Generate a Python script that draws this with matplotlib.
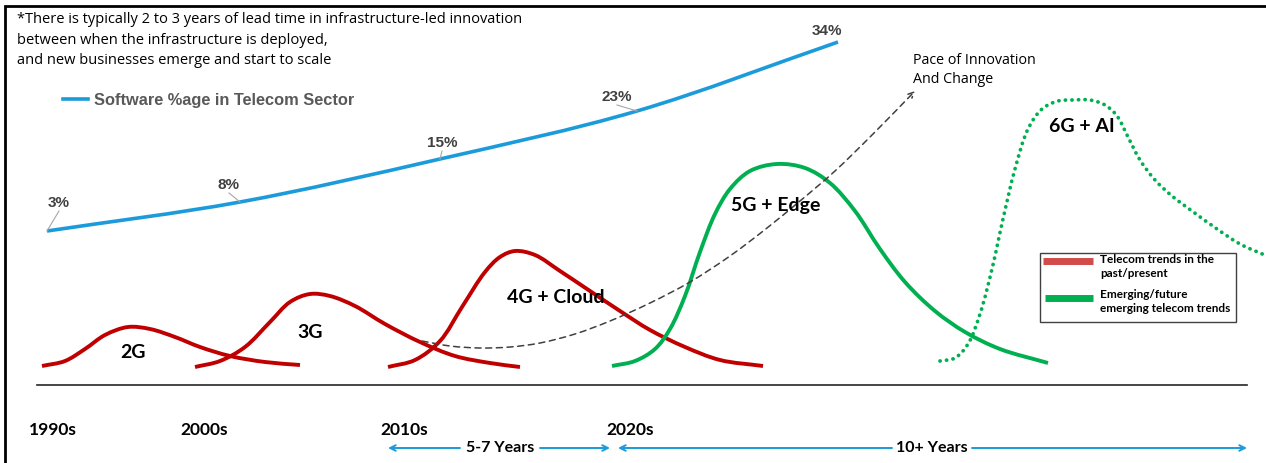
import numpy as np
import matplotlib
matplotlib.use('Agg')
import matplotlib.pyplot as plt
from matplotlib.path import Path
from matplotlib.patches import PathPatch, FancyArrowPatch, Rectangle

# ── colours ──
Blue   = '#1C9BDB'
Red    = '#C00000'
Green  = '#00B050'
Grey   = '#595959'
Dark   = '#262626'

# ── data (reference pixel coordinates, y grows downward) ──
sw_x      = [47, 240, 440, 637, 838]
sw_y      = [232, 203, 160, 112, 43]
sw_labels = ['3%', '8%', '15%', '23%', '34%']
sw_lab_x  = [59, 229, 442, 617, 827]
sw_lab_y  = [203, 185, 143, 97, 31]

g2_x = [42, 65, 85, 105, 128, 150, 175, 200, 230, 265, 300]
g2_y = [367, 362, 350, 336, 328, 330, 338, 348, 357, 363, 366]
g3_x = [195, 220, 245, 270, 290, 310, 330, 355, 385, 420, 455, 490, 520]
g3_y = [368, 362, 348, 323, 303, 295, 297, 307, 325, 343, 357, 364, 368]
g4_x = [388, 415, 440, 462, 485, 500, 515, 535, 560, 590, 620, 650, 685, 720, 763]
g4_y = [368, 361, 342, 308, 273, 258, 252, 256, 272, 292, 312, 331, 348, 361, 367]
g5_x = [612, 635, 655, 670, 685, 700, 715, 730, 750, 777, 805, 830, 855, 880, 905,
        935, 965, 1000, 1048]
g5_y = [367, 362, 350, 330, 297, 253, 215, 190, 172, 165, 169, 184, 212, 250, 283,
        312, 333, 350, 364]
g6_x = [940, 955, 968, 980, 992, 1003, 1015, 1028, 1042, 1058, 1073, 1090, 1105, 1117,
        1128, 1140, 1155, 1172, 1192, 1217, 1240, 1267]
g6_y = [362, 359, 345, 315, 270, 220, 170, 130, 110, 102, 101, 101, 106, 117,
        138, 161, 181, 197, 212, 230, 245, 257]
pace_x = [422, 450, 480, 510, 540, 575, 610, 650, 690, 730, 767, 800, 835, 875, 915]
pace_y = [342, 347, 349, 348, 344, 335, 322, 304, 283, 257, 229, 202, 172, 133, 92]

gen_labels = ['2G', '3G', '4G + Cloud', '5G + Edge', '6G + AI']
gen_lab_x  = [133, 310, 556, 776, 1082]
gen_lab_y  = [353, 333, 298, 206, 126]

decades   = ['1990s', '2000s', '2010s', '2020s']
decade_x  = [29, 180, 380, 606]

spans      = ['5-7 Years', '10+ Years']
span_start = [388, 618]
span_end   = [610, 1247]
span_mid   = [500, 932]


def smooth_path(xs, ys, alpha=0.5):
    # centripetal Catmull-Rom through the points, as cubic Bezier segments
    pts = np.column_stack([xs, ys]).astype(float)
    ext = np.vstack([2 * pts[0] - pts[1], pts, 2 * pts[-1] - pts[-2]])
    verts = [pts[0]]
    codes = [Path.MOVETO]
    for i in range(1, len(ext) - 2):
        p0, p1, p2, p3 = ext[i - 1], ext[i], ext[i + 1], ext[i + 2]
        d0 = np.linalg.norm(p1 - p0) ** alpha
        d1 = np.linalg.norm(p2 - p1) ** alpha
        d2 = np.linalg.norm(p3 - p2) ** alpha
        m1 = d1 * ((p1 - p0) / d0 - (p2 - p0) / (d0 + d1) + (p2 - p1) / d1)
        m2 = d1 * ((p2 - p1) / d1 - (p3 - p1) / (d1 + d2) + (p3 - p2) / d2)
        verts += [p1 + m1 / 3.0, p2 - m2 / 3.0, p2]
        codes += [Path.CURVE4] * 3
    return Path(verts, codes)


fig = plt.figure(figsize=(12.66, 4.64), dpi=100)
ax = fig.add_axes([0, 0, 1, 1])
ax.set_xlim(0, 1266)
ax.set_ylim(464, 0)
ax.axis('off')

# frame (left + top)
ax.plot([5, 5, 1266], [464, 7, 7], color='black', lw=2, solid_joinstyle='miter')

# header note
ax.text(17, 12, '*There is typically 2 to 3 years of lead time in infrastructure-led innovation\n'
        'between when the infrastructure is deployed,\n'
        'and new businesses emerge and start to scale',
        family='Open Sans', fontsize=10.5, color='black', va='top', ha='left',
        linespacing=1.5)

# software share line
ax.add_patch(PathPatch(smooth_path(sw_x, sw_y), fill=False, edgecolor=Blue, lw=2.6))
ax.plot([63, 88], [100, 100], color=Blue, lw=2.6)
ax.text(94, 100, 'Software %age in Telecom Sector', family='Liberation Sans',
        fontweight='bold', fontsize=11.8, color=Grey, va='center', ha='left')
for x, y, lx, ly, s in zip(sw_x, sw_y, sw_lab_x, sw_lab_y, sw_labels):
    ax.text(lx, ly, s, family='Liberation Sans', fontweight='bold', fontsize=11,
            color='#404040', ha='center', va='center')
    if s != '34%':
        ax.plot([x, lx], [y, ly + 9], color='#A6A6A6', lw=0.8)

# technology generations
for xs, ys, col in [(g2_x, g2_y, Red), (g3_x, g3_y, Red), (g4_x, g4_y, Red),
                    (g5_x, g5_y, Green)]:
    ax.add_patch(PathPatch(smooth_path(xs, ys), fill=False, edgecolor=col, lw=2.8))
ax.add_patch(PathPatch(smooth_path(g6_x, g6_y), fill=False, edgecolor=Green, lw=2.7,
                       linestyle=(0, (0.05, 1.7)), capstyle='round'))

for s, x, y in zip(gen_labels, gen_lab_x, gen_lab_y):
    ax.text(x, y, s, family='Lato', fontweight='bold', fontsize=14, color='black',
            ha='center', va='center')

# pace of innovation
ax.add_patch(FancyArrowPatch(path=smooth_path(pace_x, pace_y), arrowstyle='->',
                             mutation_scale=10, color='#404040', lw=1.1,
                             linestyle=(0, (4, 3))))
ax.text(913, 70, 'Pace of Innovation\nAnd Change', family='Open Sans', fontsize=10.3,
        color='black', ha='left', va='center', linespacing=1.4)

# baseline and decade axis
ax.plot([37, 1247], [386, 386], color=Dark, lw=1.2)
for s, x in zip(decades, decade_x):
    ax.text(x, 430, s, family='Lato', fontweight='bold', fontsize=12.5, color='black',
            ha='left', va='center')

for s, x0, x1, xm in zip(spans, span_start, span_end, span_mid):
    ax.text(xm, 448, s, family='Lato', fontweight='bold', fontsize=11.5, color='black',
            ha='center', va='center')
    half = 40
    ax.annotate('', xy=(x0, 449), xytext=(xm - half, 449),
                arrowprops=dict(arrowstyle='->', color=Blue, lw=1.4, shrinkA=0, shrinkB=0))
    ax.annotate('', xy=(x1, 449), xytext=(xm + half, 449),
                arrowprops=dict(arrowstyle='->', color=Blue, lw=1.4, shrinkA=0, shrinkB=0))

# legend box
ax.add_patch(Rectangle((1040, 254), 196, 69, fill=False, edgecolor='#404040', lw=1))
ax.plot([1043, 1093], [262, 262], color='#D24B4B', lw=5, solid_capstyle='butt')
ax.plot([1045, 1093], [299, 299], color=Green, lw=5, solid_capstyle='butt')
ax.text(1100, 254, 'Telecom trends in the\npast/present', family='Lato', fontweight='bold',
        fontsize=8.5, color='black', ha='left', va='top', linespacing=1.3)
ax.text(1100, 289, 'Emerging/future\nemerging telecom trends', family='Lato', fontweight='bold',
        fontsize=8.5, color='black', ha='left', va='top', linespacing=1.3)

fig.savefig('out.png', dpi=100)
